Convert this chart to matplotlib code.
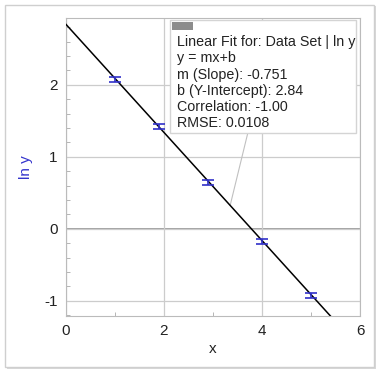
import numpy as np
import matplotlib.pyplot as plt
from matplotlib.patches import Rectangle
from matplotlib.ticker import MultipleLocator

plt.rcParams['font.family'] = ['Liberation Sans', 'DejaVu Sans']
plt.rcParams['axes.unicode_minus'] = False

# data
x = [1.0, 1.9, 2.9, 4.0, 5.0]
lny = [2.08, 1.42, 0.64, -0.18, -0.93]
err = [0.035, 0.035, 0.035, 0.035, 0.035]
slope = -0.751
intercept = 2.84
fit_text = ("Linear Fit for: Data Set | ln y\n"
            "y = mx+b\n"
            "m (Slope): -0.751\n"
            "b (Y-Intercept): 2.84\n"
            "Correlation: -1.00\n"
            "RMSE: 0.0108")

fig = plt.figure(figsize=(3.79, 3.72), dpi=100)
# outer frame with a little shadow
fig.patches.append(Rectangle((0.018, 0.008), 0.975, 0.975, transform=fig.transFigure,
                             facecolor='#d8d8d8', edgecolor='none', zorder=-2))
fig.patches.append(Rectangle((0.012, 0.014), 0.975, 0.973, transform=fig.transFigure,
                             facecolor='white', edgecolor='#cfcfcf', lw=1, zorder=-1))

ax = fig.add_axes([0.174, 0.151, 0.776, 0.801])
ax.set_zorder(2)
ax.set_xlim(0, 6)
ax.set_ylim(-1.21, 2.93)

ax.xaxis.set_major_locator(MultipleLocator(2))
ax.xaxis.set_minor_locator(MultipleLocator(1))
ax.yaxis.set_major_locator(MultipleLocator(1))
ax.yaxis.set_minor_locator(MultipleLocator(0.2))
ax.tick_params(which='both', direction='in', colors='#aaaaaa', labelcolor='#222222', labelsize=11)
ax.tick_params(which='major', length=0, pad=6)
ax.tick_params(which='minor', length=3)
ax.grid(True, which='major', color='#cccccc', lw=0.9)
ax.axhline(0, color='#999999', lw=1.3, zorder=1)
for s in ax.spines.values():
    s.set_color('#bbbbbb')

xx = np.linspace(0, 6, 50)
ax.plot(xx, slope * xx + intercept, color='black', lw=1.1, zorder=3)
ax.errorbar(x, lny, yerr=err, fmt='none', ecolor='#3030c8', elinewidth=1.2,
            capsize=4.5, capthick=1.2, zorder=4)

# leader line from the fit box to the line
ax.plot([3.71, 3.35], [1.33, slope * 3.35 + intercept], color='#c0c0c0', lw=0.8, zorder=2)

# fit info box
ax.add_patch(Rectangle((2.12, 1.33), 3.80, 1.57, facecolor='white', edgecolor='#d4d4d4',
                       lw=1, zorder=5))
ax.add_patch(Rectangle((2.16, 2.765), 0.43, 0.105, facecolor='#8c8c8c', edgecolor='none', zorder=6))
ax.text(2.26, 2.69, fit_text, fontsize=10.3, va='top', ha='left', linespacing=1.2,
        color='#222222', zorder=6)

ax.set_xlabel('x', fontsize=11, labelpad=3, color='#222222')
ax.set_ylabel('ln y', fontsize=11, color='#3333cc', labelpad=8)

fig.savefig('out.png', dpi=100)
